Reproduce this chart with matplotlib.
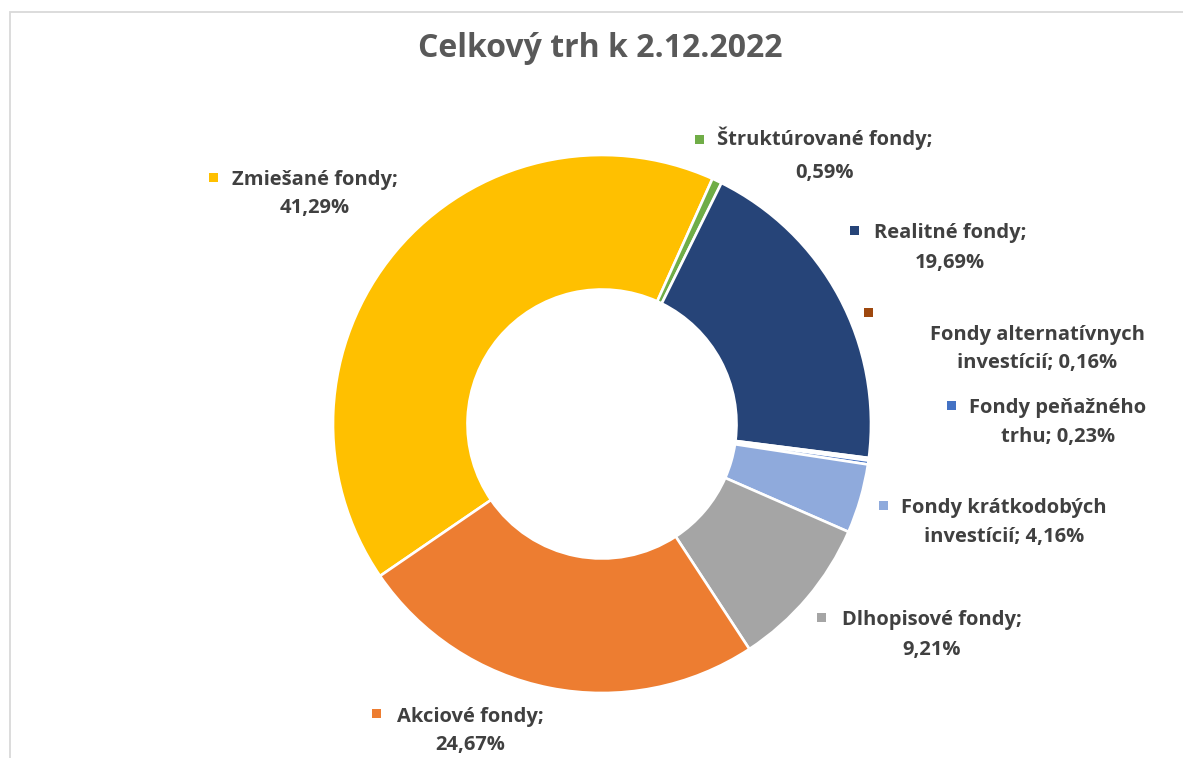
import matplotlib
matplotlib.use("Agg")
import matplotlib.pyplot as plt
from matplotlib.patches import Rectangle

plt.rcParams['font.family'] = ['Open Sans', 'DejaVu Sans']

# Údaje (v smere hodinových ručičiek)
categories = [
    "Zmiešané fondy",
    "Štruktúrované fondy",
    "Realitné fondy",
    "Fondy alternatívnych investícií",
    "Fondy peňažného trhu",
    "Fondy krátkodobých investícií",
    "Dlhopisové fondy",
    "Akciové fondy",
]
shares = [41.29, 0.59, 19.69, 0.16, 0.23, 4.16, 9.21, 24.67]
colors = ["#FFC000", "#70AD47", "#264478", "#9E480E",
          "#4472C4", "#8FAADC", "#A5A5A5", "#ED7D31"]

# Texty popisov (tak ako v grafe, s vlastným zalomením)
label_lines = [
    ("Zmiešané fondy;", "41,29%"),
    ("Štruktúrované fondy;", "0,59%"),
    ("Realitné fondy;", "19,69%"),
    ("Fondy alternatívnych", "investícií; 0,16%"),
    ("Fondy peňažného", "trhu; 0,23%"),
    ("Fondy krátkodobých", "investícií; 4,16%"),
    ("Dlhopisové fondy;", "9,21%"),
    ("Akciové fondy;", "24,67%"),
]

W, H = 1183, 758
fig = plt.figure(figsize=(W / 100, H / 100), dpi=100)

# rám oblasti grafu
fig.patches.append(Rectangle((9.5 / W, -0.1), 1.2, 1 - 11.5 / H + 0.1,
                             transform=fig.transFigure, fill=False,
                             edgecolor="#D9D9D9", linewidth=1.3))

# donut
cx, cy, r = 602, 424, 269
ax = fig.add_axes([(cx - r) / W, (H - cy - r) / H, 2 * r / W, 2 * r / H])
ax.pie(shares, colors=colors, startangle=90 - 235.6, counterclock=False,
       radius=1.0, wedgeprops=dict(width=0.5, edgecolor="white", linewidth=1.9))
ax.set_xlim(-1, 1)
ax.set_ylim(-1, 1)
ax.set_aspect("equal")
ax.axis("off")

fig.text(600 / W, 1 - 57 / H, "Celkový trh k 2.12.2022", ha="center", va="baseline",
         fontsize=23, fontweight="bold", color="#595959")

# pozície popisov v pixeloch:
# (stred textu x, základná línia 1. riadku, 2. riadku, x štvorčeka, y štvorčeka)
label_pos = [
    (315, 185, 213, 213, 177),
    (825, 145, 178, 699, 139),
    (950, 238, 268, 854, 230),
    (1037, 340, 368, 868, 313),
    (1058, 413, 442, 951, 405),
    (1004, 513, 542, 883, 505),
    (932, 625, 655, 821, 617),
    (470, 722, 750, 376, 713),
]
txt_color = "#404040"
for lines, col, (tx, b1, b2, sx, sy) in zip(label_lines, colors, label_pos):
    for line, b in zip(lines, (b1, b2)):
        fig.text(tx / W, 1 - b / H, line, ha="center", va="baseline",
                 fontsize=14.5, fontweight="bold", color=txt_color)
    s = 9
    fig.patches.append(Rectangle(((sx - s / 2) / W, 1 - (sy + s / 2) / H), s / W, s / H,
                                 transform=fig.transFigure, facecolor=col,
                                 edgecolor="none"))

fig.savefig("out.png", dpi=100, facecolor="white")
